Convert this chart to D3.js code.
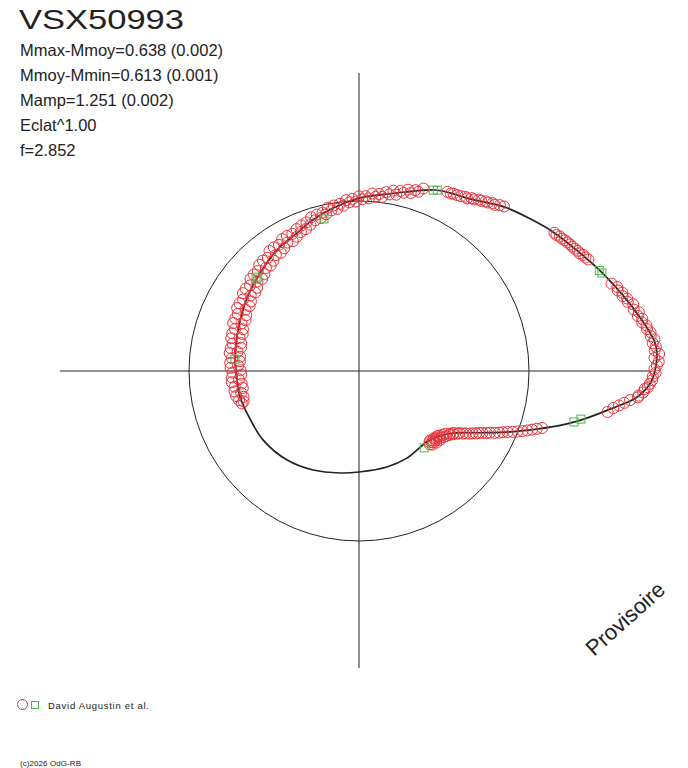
<!DOCTYPE html>
<html>
<head>
<meta charset="utf-8">
<title>VSX50993</title>
<script src="https://cdn.jsdelivr.net/npm/d3@7"></script>
<style>
  html, body { margin: 0; padding: 0; background: #fff; }
  svg { display: block; font-family: "Liberation Sans", Arial, sans-serif; }
</style>
</head>
<body>
<div id="chart"></div>
<script>
// Header texts
const title = 'VSX50993';
const statLines = [
    'Mmax-Mmoy=0.638 (0.002)',
    'Mmoy-Mmin=0.613 (0.001)',
    'Mamp=1.251 (0.002)',
    'Eclat^1.00',
    'f=2.852'
];
const observer = 'David Augustin et al.';
const copyright = '(c)2026 OdG-RB';
const stamp = 'Provisoire';

// Fitted light curve: phase (0..1) and relative flux (mean = 1)
const curvePhase = [0.000, 0.010, 0.015, 0.021, 0.030, 0.041, 0.063, 0.078, 0.099, 0.116,
    0.133, 0.138, 0.161, 0.175, 0.186, 0.210, 0.231, 0.249, 0.275, 0.301,
    0.317, 0.345, 0.385, 0.414, 0.457, 0.483, 0.500, 0.534, 0.557, 0.599,
    0.642, 0.681, 0.721, 0.750, 0.795, 0.830, 0.872, 0.893, 0.909, 0.925,
    0.939, 0.951, 0.958, 0.965, 0.976, 0.985, 0.993];
const curveFlux = [1.741, 1.756, 1.749, 1.726, 1.683, 1.631, 1.535, 1.474, 1.404, 1.346,
    1.295, 1.277, 1.200, 1.176, 1.157, 1.087, 1.043, 1.018, 0.971, 0.923,
    0.890, 0.860, 0.808, 0.781, 0.745, 0.733, 0.724, 0.716, 0.704, 0.695,
    0.673, 0.642, 0.610, 0.594, 0.588, 0.585, 0.578, 0.611, 0.672, 0.800,
    0.958, 1.118, 1.226, 1.332, 1.494, 1.642, 1.713];

// Observations (red circles)
const obsPhase = [
    // around maximum
    0.974, 0.977, 0.979, 0.981, 0.983, 0.985, 0.986, 0.988, 0.990, 0.991,
    0.993, 0.995, 0.997, 0.999, 0.001, 0.003, 0.005, 0.007, 0.009, 0.011,
    0.013, 0.015, 0.017, 0.019, 0.021, 0.023, 0.025, 0.027, 0.029, 0.031,
    0.033, 0.035, 0.038, 0.040, 0.042, 0.044, 0.046, 0.048, 0.050, 0.053,
    // short run after maximum
    0.072, 0.074, 0.076, 0.078, 0.080, 0.082, 0.084, 0.086, 0.088, 0.090,
    0.092, 0.094, 0.096, 0.098,
    // top
    0.135, 0.138, 0.141, 0.143, 0.146, 0.148, 0.151, 0.153, 0.156, 0.158,
    0.161, 0.163, 0.166, 0.169, 0.172, 0.174, 0.177,
    // long decline
    0.196, 0.199, 0.202, 0.205, 0.208, 0.211, 0.214, 0.217, 0.220, 0.223,
    0.226, 0.229, 0.232, 0.235, 0.238, 0.241, 0.244, 0.247, 0.250, 0.253,
    0.256, 0.259, 0.262, 0.265, 0.268, 0.271, 0.274, 0.277, 0.280, 0.283,
    0.286, 0.289, 0.292, 0.295, 0.298, 0.301, 0.304, 0.307, 0.310, 0.313,
    0.316, 0.319, 0.322, 0.325, 0.328, 0.331, 0.334, 0.337, 0.340, 0.343,
    0.346, 0.349, 0.352, 0.355, 0.358, 0.361, 0.364, 0.367, 0.370, 0.373,
    0.376, 0.379, 0.382, 0.385, 0.388, 0.391, 0.394, 0.397, 0.400, 0.403,
    0.406, 0.409, 0.412, 0.415, 0.418, 0.421, 0.424, 0.427, 0.430, 0.433,
    0.436, 0.439, 0.442, 0.445, 0.448, 0.451, 0.454, 0.457, 0.460, 0.463,
    0.466, 0.469, 0.472, 0.475, 0.478, 0.481, 0.484, 0.487, 0.490, 0.493,
    0.496, 0.499, 0.502, 0.505, 0.508, 0.511, 0.514, 0.517, 0.520, 0.523,
    0.526, 0.529, 0.532, 0.535, 0.538, 0.541, 0.543,
    // rising branch
    0.872, 0.874, 0.875, 0.877, 0.878, 0.880, 0.881, 0.883, 0.884, 0.886,
    0.887, 0.889, 0.890, 0.892, 0.894, 0.896, 0.898, 0.900, 0.902, 0.904,
    0.906, 0.908, 0.910, 0.912, 0.914, 0.916, 0.918, 0.920, 0.922, 0.924,
    0.926, 0.928, 0.930, 0.932, 0.934, 0.936, 0.938, 0.940, 0.942, 0.944,
    0.946, 0.948, 0.950, 0.952
];
const obsFlux = [
    1.482, 1.512, 1.542, 1.572, 1.604, 1.648, 1.650, 1.676, 1.684, 1.702,
    1.712, 1.726, 1.728, 1.745, 1.738, 1.752, 1.764, 1.740, 1.768, 1.744,
    1.752, 1.736, 1.748, 1.728, 1.730, 1.712, 1.712, 1.690, 1.694, 1.672,
    1.682, 1.656, 1.660, 1.632, 1.634, 1.612, 1.616, 1.594, 1.598, 1.572,
    1.500, 1.490, 1.485, 1.470, 1.468, 1.460, 1.452, 1.448, 1.440, 1.436,
    1.425, 1.422, 1.410, 1.408,
    1.290, 1.280, 1.262, 1.262, 1.248, 1.245, 1.232, 1.230, 1.215, 1.214,
    1.198, 1.200, 1.190, 1.185, 1.182, 1.175, 1.175,
    1.138, 1.111, 1.114, 1.090, 1.105, 1.081, 1.087, 1.060, 1.080, 1.054,
    1.064, 1.033, 1.048, 1.029, 1.047, 1.017, 1.029, 1.011, 1.028, 0.997,
    1.013, 0.994, 1.008, 0.977, 0.990, 0.962, 0.985, 0.959, 0.978, 0.942,
    0.956, 0.927, 0.953, 0.923, 0.947, 0.907, 0.927, 0.891, 0.921, 0.886,
    0.912, 0.870, 0.897, 0.857, 0.900, 0.865, 0.898, 0.846, 0.879, 0.834,
    0.883, 0.839, 0.881, 0.821, 0.855, 0.809, 0.861, 0.817, 0.857, 0.797,
    0.837, 0.786, 0.840, 0.796, 0.837, 0.774, 0.815, 0.765, 0.824, 0.777,
    0.822, 0.756, 0.801, 0.748, 0.808, 0.759, 0.807, 0.740, 0.788, 0.731,
    0.791, 0.746, 0.792, 0.725, 0.770, 0.718, 0.778, 0.729, 0.776, 0.712,
    0.761, 0.708, 0.766, 0.723, 0.768, 0.704, 0.751, 0.703, 0.759, 0.712,
    0.756, 0.697, 0.744, 0.693, 0.748, 0.708, 0.751, 0.694, 0.737, 0.691,
    0.742, 0.705, 0.738, 0.696, 0.726, 0.702, 0.715,
    0.600, 0.590, 0.612, 0.585, 0.605, 0.598, 0.620, 0.592, 0.610, 0.602,
    0.625, 0.598, 0.618, 0.606, 0.630, 0.618, 0.640, 0.628, 0.652, 0.650,
    0.668, 0.665, 0.688, 0.695, 0.715, 0.728, 0.748, 0.762, 0.780, 0.795,
    0.812, 0.835, 0.852, 0.878, 0.900, 0.920, 0.945, 0.972, 0.998, 1.025,
    1.050, 1.075, 1.100, 1.128
];

// Second data set (green squares)
const sqPhase = [0.061, 0.063, 0.185, 0.188, 0.286, 0.381, 0.384, 0.485, 0.862, 0.963, 0.966];
const sqFlux  = [1.541, 1.532, 1.159, 1.150, 0.918, 0.812, 0.812, 0.733, 0.593, 1.300, 1.336];

document.addEventListener('DOMContentLoaded', function() {
    drawChart();
});

function drawChart() {
    const width = 688;
    const height = 768;
    const cx = 359;
    const cy = 371;

    const svg = d3.select('#chart')
        .append('svg')
        .attr('width', width)
        .attr('height', height)
        .attr('viewBox', [0, 0, width, height]);

    // Scales: flux -> radius, phase -> angle (counter-clockwise from the right)
    const r = d3.scaleLinear().domain([0, 1]).range([0, 170]);
    const angle = d3.scaleLinear().domain([0, 1]).range([Math.PI / 2, Math.PI / 2 - 2 * Math.PI]);

    const g = svg.append('g').attr('transform', `translate(${cx},${cy})`);

    // Axes
    g.append('line')
        .attr('x1', -299).attr('x2', 291)
        .attr('y1', 0).attr('y2', 0)
        .attr('stroke', '#222').attr('stroke-width', 1);
    g.append('line')
        .attr('x1', 0).attr('x2', 0)
        .attr('y1', -298).attr('y2', 297)
        .attr('stroke', '#222').attr('stroke-width', 1);

    // Mean circle
    g.append('circle')
        .attr('r', r(1))
        .attr('fill', 'none')
        .attr('stroke', '#222')
        .attr('stroke-width', 1);

    // Fitted curve
    const curveData = curvePhase.map((p, i) => ({ phase: p, flux: curveFlux[i] }));
    const line = d3.lineRadial()
        .angle(d => angle(d.phase))
        .radius(d => r(d.flux))
        .curve(d3.curveCatmullRomClosed.alpha(0.5));

    g.append('path')
        .datum(curveData)
        .attr('d', line)
        .attr('fill', 'none')
        .attr('stroke', '#222')
        .attr('stroke-width', 1.7);

    // Observations
    const obs = obsPhase.map((p, i) => ({ phase: p, flux: obsFlux[i] }));
    g.append('g')
        .selectAll('circle')
        .data(obs)
        .join('circle')
        .attr('cx', d => d3.pointRadial(angle(d.phase), r(d.flux))[0])
        .attr('cy', d => d3.pointRadial(angle(d.phase), r(d.flux))[1])
        .attr('r', 5.5)
        .attr('fill', 'none')
        .attr('stroke', '#e8333b')
        .attr('stroke-width', 1);

    const sq = sqPhase.map((p, i) => ({ phase: p, flux: sqFlux[i] }));
    g.append('g')
        .selectAll('rect')
        .data(sq)
        .join('rect')
        .attr('x', d => d3.pointRadial(angle(d.phase), r(d.flux))[0] - 4)
        .attr('y', d => d3.pointRadial(angle(d.phase), r(d.flux))[1] - 4)
        .attr('width', 8)
        .attr('height', 8)
        .attr('fill', 'none')
        .attr('stroke', '#4db848')
        .attr('stroke-width', 1);

    // Title and statistics
    svg.append('text')
        .attr('x', 19)
        .attr('y', 29)
        .attr('font-size', 28)
        .attr('fill', '#222')
        .attr('textLength', 165)
        .attr('lengthAdjust', 'spacingAndGlyphs')
        .text(title);

    svg.append('g')
        .selectAll('text')
        .data(statLines)
        .join('text')
        .attr('x', 20)
        .attr('y', (d, i) => 56 + i * 25)
        .attr('font-size', 16.5)
        .attr('fill', '#222')
        .text(d => d);

    // Legend
    svg.append('circle')
        .attr('cx', 22.5).attr('cy', 704.5).attr('r', 5)
        .attr('fill', 'none').attr('stroke', '#e8333b');
    svg.append('rect')
        .attr('x', 31.5).attr('y', 701.5).attr('width', 7).attr('height', 7)
        .attr('fill', 'none').attr('stroke', '#4db848');
    svg.append('text')
        .attr('x', 48).attr('y', 709)
        .attr('font-size', 9.5)
        .attr('fill', '#222')
        .attr('textLength', 101)
        .attr('lengthAdjust', 'spacing')
        .text(observer);

    svg.append('text')
        .attr('x', 20).attr('y', 766)
        .attr('font-size', 8)
        .attr('fill', '#222')
        .attr('textLength', 61)
        .attr('lengthAdjust', 'spacing')
        .text(copyright);

    // Watermark
    svg.append('text')
        .attr('transform', 'translate(594,657) rotate(-42)')
        .attr('font-size', 22)
        .attr('fill', '#222')
        .text(stamp);
}
</script>
</body>
</html>
